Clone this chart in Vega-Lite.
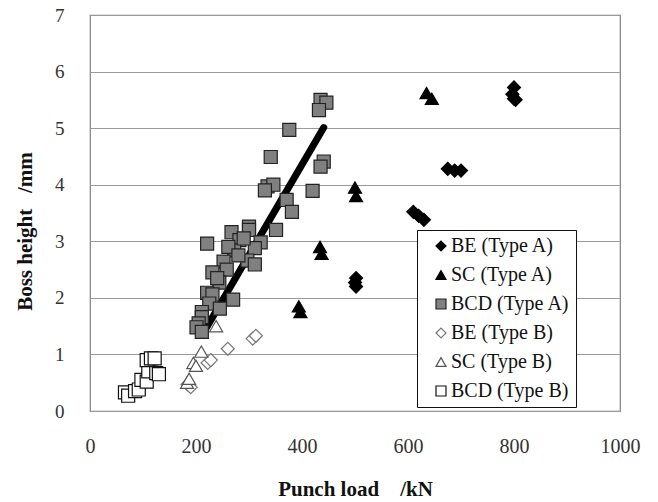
{
  "$schema": "https://vega.github.io/schema/vega-lite/v6.json",
  "width": 530,
  "height": 396,
  "autosize": {"type": "none"},
  "padding": {"left": 90, "top": 15, "right": 38, "bottom": 91},
  "background": "white",
  "config": {
    "view": {"stroke": "#808080", "strokeWidth": 1.2},
    "font": "Liberation Serif"
  },
  "datasets": {
    "pts": [
      {"load": 800, "height": 5.72, "series": "BE (Type A)"},
      {"load": 797, "height": 5.6, "series": "BE (Type A)"},
      {"load": 803, "height": 5.5, "series": "BE (Type A)"},
      {"load": 800, "height": 5.52, "series": "BE (Type A)"},
      {"load": 675, "height": 4.28, "series": "BE (Type A)"},
      {"load": 688, "height": 4.25, "series": "BE (Type A)"},
      {"load": 700, "height": 4.25, "series": "BE (Type A)"},
      {"load": 610, "height": 3.52, "series": "BE (Type A)"},
      {"load": 620, "height": 3.45, "series": "BE (Type A)"},
      {"load": 630, "height": 3.38, "series": "BE (Type A)"},
      {"load": 502, "height": 2.35, "series": "BE (Type A)"},
      {"load": 500, "height": 2.27, "series": "BE (Type A)"},
      {"load": 502, "height": 2.2, "series": "BE (Type A)"},
      {"load": 635, "height": 5.62, "series": "SC (Type A)"},
      {"load": 645, "height": 5.52, "series": "SC (Type A)"},
      {"load": 500, "height": 3.95, "series": "SC (Type A)"},
      {"load": 502, "height": 3.8, "series": "SC (Type A)"},
      {"load": 434, "height": 2.9, "series": "SC (Type A)"},
      {"load": 437, "height": 2.78, "series": "SC (Type A)"},
      {"load": 394, "height": 1.85, "series": "SC (Type A)"},
      {"load": 397, "height": 1.75, "series": "SC (Type A)"},
      {"load": 435, "height": 5.5, "series": "BCD (Type A)"},
      {"load": 446, "height": 5.45, "series": "BCD (Type A)"},
      {"load": 432, "height": 5.32, "series": "BCD (Type A)"},
      {"load": 376, "height": 4.97, "series": "BCD (Type A)"},
      {"load": 341, "height": 4.49, "series": "BCD (Type A)"},
      {"load": 441, "height": 4.41, "series": "BCD (Type A)"},
      {"load": 435, "height": 4.32, "series": "BCD (Type A)"},
      {"load": 335, "height": 3.97, "series": "BCD (Type A)"},
      {"load": 346, "height": 4.0, "series": "BCD (Type A)"},
      {"load": 330, "height": 3.9, "series": "BCD (Type A)"},
      {"load": 420, "height": 3.89, "series": "BCD (Type A)"},
      {"load": 371, "height": 3.73, "series": "BCD (Type A)"},
      {"load": 381, "height": 3.52, "series": "BCD (Type A)"},
      {"load": 351, "height": 3.2, "series": "BCD (Type A)"},
      {"load": 300, "height": 3.26, "series": "BCD (Type A)"},
      {"load": 300, "height": 3.2, "series": "BCD (Type A)"},
      {"load": 221, "height": 2.96, "series": "BCD (Type A)"},
      {"load": 267, "height": 3.16, "series": "BCD (Type A)"},
      {"load": 282, "height": 3.02, "series": "BCD (Type A)"},
      {"load": 322, "height": 2.98, "series": "BCD (Type A)"},
      {"load": 311, "height": 2.88, "series": "BCD (Type A)"},
      {"load": 272, "height": 2.84, "series": "BCD (Type A)"},
      {"load": 261, "height": 2.9, "series": "BCD (Type A)"},
      {"load": 297, "height": 2.66, "series": "BCD (Type A)"},
      {"load": 311, "height": 2.59, "series": "BCD (Type A)"},
      {"load": 252, "height": 2.64, "series": "BCD (Type A)"},
      {"load": 258, "height": 2.5, "series": "BCD (Type A)"},
      {"load": 231, "height": 2.45, "series": "BCD (Type A)"},
      {"load": 244, "height": 2.27, "series": "BCD (Type A)"},
      {"load": 240, "height": 2.35, "series": "BCD (Type A)"},
      {"load": 280, "height": 2.75, "series": "BCD (Type A)"},
      {"load": 290, "height": 3.05, "series": "BCD (Type A)"},
      {"load": 221, "height": 2.09, "series": "BCD (Type A)"},
      {"load": 231, "height": 2.06, "series": "BCD (Type A)"},
      {"load": 270, "height": 1.97, "series": "BCD (Type A)"},
      {"load": 225, "height": 1.9, "series": "BCD (Type A)"},
      {"load": 245, "height": 1.81, "series": "BCD (Type A)"},
      {"load": 211, "height": 1.75, "series": "BCD (Type A)"},
      {"load": 211, "height": 1.66, "series": "BCD (Type A)"},
      {"load": 205, "height": 1.55, "series": "BCD (Type A)"},
      {"load": 201, "height": 1.48, "series": "BCD (Type A)"},
      {"load": 211, "height": 1.4, "series": "BCD (Type A)"},
      {"load": 184, "height": 0.47, "series": "BE (Type B)"},
      {"load": 190, "height": 0.42, "series": "BE (Type B)"},
      {"load": 222, "height": 0.85, "series": "BE (Type B)"},
      {"load": 228, "height": 0.9, "series": "BE (Type B)"},
      {"load": 260, "height": 1.1, "series": "BE (Type B)"},
      {"load": 307, "height": 1.28, "series": "BE (Type B)"},
      {"load": 313, "height": 1.33, "series": "BE (Type B)"},
      {"load": 183, "height": 0.5, "series": "SC (Type B)"},
      {"load": 187, "height": 0.57, "series": "SC (Type B)"},
      {"load": 195, "height": 0.85, "series": "SC (Type B)"},
      {"load": 200, "height": 0.8, "series": "SC (Type B)"},
      {"load": 210, "height": 1.05, "series": "SC (Type B)"},
      {"load": 238, "height": 1.5, "series": "SC (Type B)"},
      {"load": 66, "height": 0.33, "series": "BCD (Type B)"},
      {"load": 72, "height": 0.27, "series": "BCD (Type B)"},
      {"load": 85, "height": 0.35, "series": "BCD (Type B)"},
      {"load": 92, "height": 0.38, "series": "BCD (Type B)"},
      {"load": 97, "height": 0.55, "series": "BCD (Type B)"},
      {"load": 107, "height": 0.52, "series": "BCD (Type B)"},
      {"load": 110, "height": 0.7, "series": "BCD (Type B)"},
      {"load": 107, "height": 0.9, "series": "BCD (Type B)"},
      {"load": 115, "height": 0.93, "series": "BCD (Type B)"},
      {"load": 122, "height": 0.93, "series": "BCD (Type B)"},
      {"load": 125, "height": 0.67, "series": "BCD (Type B)"},
      {"load": 130, "height": 0.65, "series": "BCD (Type B)"}
    ],
    "fit": [
      {"load": 212, "height": 1.35},
      {"load": 441, "height": 5.01}
    ]
  },
  "layer": [
    {
      "data": {"name": "fit"},
      "mark": {"type": "line", "color": "black", "strokeWidth": 7, "strokeCap": "round"},
      "encoding": {
        "x": {"field": "load", "type": "quantitative", "scale": {"domain": [0, 1000], "nice": false}},
        "y": {"field": "height", "type": "quantitative", "scale": {"domain": [0, 7], "nice": false}}
      }
    },
    {
      "data": {"name": "pts"},
      "mark": {"type": "point", "filled": true, "size": 170, "strokeWidth": 1.2, "opacity": 1},
      "encoding": {
        "x": {
          "field": "load", "type": "quantitative",
          "scale": {"domain": [0, 1000], "nice": false},
          "axis": {
            "title": "Punch load\u00a0\u00a0\u00a0\u00a0/kN", "values": [0, 200, 400, 600, 800, 1000], "format": "d",
            "grid": false, "ticks": false, "domain": false,
            "labelFont": "Liberation Serif", "labelFontSize": 20, "labelColor": "#333",
            "labelPadding": 25, "labelFlush": false,
            "titleFont": "Liberation Serif", "titleFontSize": 21, "titleFontWeight": "bold",
            "titleColor": "#111", "titlePadding": 22
          }
        },
        "y": {
          "field": "height", "type": "quantitative",
          "scale": {"domain": [0, 7], "nice": false},
          "axis": {
            "title": "Boss height\u00a0\u00a0\u00a0/mm", "values": [0, 1, 2, 3, 4, 5, 6, 7], "format": "d",
            "grid": true, "gridColor": "#9a9a9a", "gridWidth": 1.2,
            "ticks": false, "domain": false,
            "labelFont": "Liberation Serif", "labelFontSize": 19, "labelColor": "#333",
            "labelPadding": 26, "labelFlush": false,
            "titleFont": "Liberation Serif", "titleFontSize": 21, "titleFontWeight": "bold",
            "titleColor": "#111", "titleX": -65, "titleY": 216, "titleBaseline": "middle"
          }
        },
        "shape": {
          "field": "series", "type": "nominal",
          "scale": {
            "domain": ["BE (Type A)", "SC (Type A)", "BCD (Type A)", "BE (Type B)", "SC (Type B)", "BCD (Type B)"],
            "range": ["diamond", "triangle-up", "square", "diamond", "triangle-up", "square"]
          },
          "legend": {
            "title": null, "orient": "none", "legendX": 327, "legendY": 215,
            "fillColor": "white", "strokeColor": "#111", "padding": 6,
            "rowPadding": 9, "symbolSize": 100, "symbolOffset": 8, "labelOffset": 0,
            "labelFont": "Liberation Serif", "labelFontSize": 20, "labelColor": "#111",
            "symbolStrokeWidth": 1.2
          }
        },
        "fill": {
          "field": "series", "type": "nominal",
          "scale": {
            "domain": ["BE (Type A)", "SC (Type A)", "BCD (Type A)", "BE (Type B)", "SC (Type B)", "BCD (Type B)"],
            "range": ["#000000", "#000000", "#808080", "#ffffff", "#ffffff", "#ffffff"]
          },
          "legend": {
            "title": null, "orient": "none", "legendX": 327, "legendY": 215,
            "fillColor": "white", "strokeColor": "#111", "padding": 6,
            "rowPadding": 9, "symbolSize": 100, "symbolOffset": 8, "labelOffset": 0,
            "labelFont": "Liberation Serif", "labelFontSize": 20, "labelColor": "#111",
            "symbolStrokeWidth": 1.2
          }
        },
        "stroke": {
          "field": "series", "type": "nominal",
          "scale": {
            "domain": ["BE (Type A)", "SC (Type A)", "BCD (Type A)", "BE (Type B)", "SC (Type B)", "BCD (Type B)"],
            "range": ["#000000", "#000000", "#222222", "#777777", "#555555", "#111111"]
          },
          "legend": {
            "title": null, "orient": "none", "legendX": 327, "legendY": 215,
            "fillColor": "white", "strokeColor": "#111", "padding": 6,
            "rowPadding": 9, "symbolSize": 100, "symbolOffset": 8, "labelOffset": 0,
            "labelFont": "Liberation Serif", "labelFontSize": 20, "labelColor": "#111",
            "symbolStrokeWidth": 1.2
          }
        }
      }
    }
  ]
}
